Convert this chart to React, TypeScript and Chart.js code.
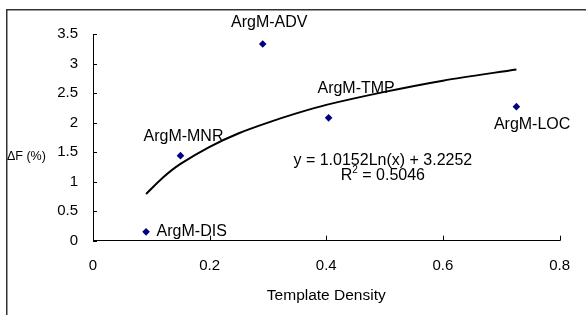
import React, { useEffect, useRef } from 'react';
import { Chart, registerables } from 'chart.js';

Chart.register(...registerables);

// ---- data ----
const pointNames = ['ArgM-DIS', 'ArgM-MNR', 'ArgM-ADV', 'ArgM-TMP', 'ArgM-LOC'];
const densityValues = [0.091, 0.15, 0.291, 0.404, 0.726];
const deltaFValues = [0.15, 1.44, 3.33, 2.08, 2.27];
// logarithmic trendline points
const trendX = [0.091, 0.12, 0.15, 0.2, 0.25, 0.3, 0.35, 0.4, 0.5, 0.6, 0.726];
const trendY = [0.79, 1.07, 1.3, 1.59, 1.82, 2.0, 2.16, 2.3, 2.52, 2.71, 2.9];
const xTickValues = [0, 0.2, 0.4, 0.6, 0.8];
const yTickValues = [0, 0.5, 1, 1.5, 2, 2.5, 3, 3.5];
const xTitle = 'Template Density';
const yTitle = 'ΔF (%)';
const equationText = 'y = 1.0152Ln(x) + 3.2252';
const r2Value = '0.5046';

// label placement relative to each marker (style only)
const labelPlacement = [
  { dx: 10.5, dy: 0, align: 'left' },
  { dx: 3, dy: -19.5, align: 'center' },
  { dx: 6.5, dy: -21, align: 'center' },
  { dx: 27.5, dy: -29, align: 'center' },
  { dx: 15.7, dy: 17.5, align: 'center' },
];

const FONT = "'Liberation Sans', Arial, Helvetica, sans-serif";

const decorPlugin = {
  id: 'decor',
  afterDraw(chart: any) {
    const ctx = chart.ctx;
    const xs = chart.scales.x;
    const ys = chart.scales.y;
    const area = chart.chartArea;
    ctx.save();
    // outer frame (cropped)
    ctx.strokeStyle = '#333';
    ctx.lineWidth = 1.5;
    ctx.beginPath();
    ctx.moveTo(6.75, 315);
    ctx.lineTo(6.75, 9.75);
    ctx.lineTo(586, 9.75);
    ctx.stroke();

    // inner tick marks
    ctx.strokeStyle = '#000';
    ctx.lineWidth = 1;
    ctx.beginPath();
    yTickValues.forEach((v) => {
      const y = Math.round(ys.getPixelForValue(v)) + 0.5;
      ctx.moveTo(area.left, y);
      ctx.lineTo(area.left + 4, y);
    });
    xTickValues.forEach((v) => {
      const x = Math.round(xs.getPixelForValue(v)) + 0.5;
      ctx.moveTo(x, area.bottom);
      ctx.lineTo(x, area.bottom - 5);
    });
    ctx.stroke();

    // point labels
    ctx.fillStyle = '#000';
    ctx.font = `16px ${FONT}`;
    ctx.textBaseline = 'middle';
    pointNames.forEach((name, i) => {
      const px = xs.getPixelForValue(densityValues[i]);
      const py = ys.getPixelForValue(deltaFValues[i]);
      const p = labelPlacement[i];
      ctx.textAlign = p.align;
      ctx.fillText(name, px + p.dx, py + p.dy);
    });

    // trendline equation
    ctx.textAlign = 'center';
    ctx.font = `16px ${FONT}`;
    const ex = xs.getPixelForValue(0.497);
    ctx.fillText(equationText, ex, 160.5);
    const rest = ' = ' + r2Value;
    const wR = ctx.measureText('R').width;
    ctx.font = `10px ${FONT}`;
    const w2 = ctx.measureText('2').width;
    ctx.font = `16px ${FONT}`;
    const wRest = ctx.measureText(rest).width;
    let sx = ex - (wR + w2 + wRest) / 2;
    ctx.textAlign = 'left';
    ctx.fillText('R', sx, 176);
    ctx.font = `10px ${FONT}`;
    ctx.fillText('2', sx + wR, 170);
    ctx.font = `16px ${FONT}`;
    ctx.fillText(rest, sx + wR + w2, 176);

    // y title (horizontal)
    ctx.font = `12.5px ${FONT}`;
    ctx.textAlign = 'left';
    ctx.fillText(yTitle, 7, 157);
    ctx.restore();
  },
};

export default function App() {
  const ref = useRef<HTMLCanvasElement | null>(null);
  useEffect(() => {
    if (!ref.current) return;
    const chart = new Chart(ref.current, {
      type: 'scatter',
      data: {
        datasets: [
          {
            label: 'trend',
            data: trendX.map((x, i) => ({ x, y: trendY[i] })),
            showLine: true,
            borderColor: '#000',
            borderWidth: 2,
            pointRadius: 0,
            tension: 0.3,
          },
          {
            label: 'ΔF',
            data: densityValues.map((x, i) => ({ x, y: deltaFValues[i] })),
            pointStyle: 'rectRot',
            pointRadius: 3.8,
            backgroundColor: '#000080',
            borderColor: '#000080',
            borderWidth: 0,
          },
        ],
      },
      options: {
        animation: false,
        responsive: true,
        maintainAspectRatio: false,
        layout: { padding: { top: 34, right: 23.3, left: 0, bottom: 0 } },
        plugins: {
          legend: { display: false },
          tooltip: { enabled: false },
        },
        scales: {
          x: {
            type: 'linear',
            min: 0,
            max: 0.8,
            afterBuildTicks: (s: any) => {
              s.ticks = xTickValues.map((v) => ({ value: v }));
            },
            afterFit: (s: any) => {
              s.height = 74.3;
            },
            grid: { display: false, drawTicks: false },
            border: { display: true, color: '#000', width: 1 },
            ticks: {
              color: '#000',
              font: { family: FONT, size: 15 },
              padding: 16,
              callback: (v: any) => String(+Number(v).toFixed(2)),
            },
            title: {
              display: true,
              text: xTitle,
              color: '#000',
              font: { family: FONT, size: 15.5 },
              padding: { top: 0, bottom: 10 },
            },
          },
          y: {
            type: 'linear',
            min: 0,
            max: 3.5,
            afterBuildTicks: (s: any) => {
              s.ticks = yTickValues.map((v) => ({ value: v }));
            },
            afterFit: (s: any) => {
              s.width = 93;
            },
            grid: { display: false, drawTicks: false },
            border: { display: true, color: '#000', width: 1 },
            ticks: {
              color: '#000',
              font: { family: FONT, size: 15 },
              padding: 15,
              callback: (v: any) => String(+Number(v).toFixed(2)),
            },
          },
        },
      },
      plugins: [decorPlugin],
    });
    return () => chart.destroy();
  }, []);
  return (
    <div style={{ position: 'fixed', left: 0, top: 0, width: 586, height: 315, background: '#fff' }}>
      <canvas ref={ref} />
    </div>
  );
}
